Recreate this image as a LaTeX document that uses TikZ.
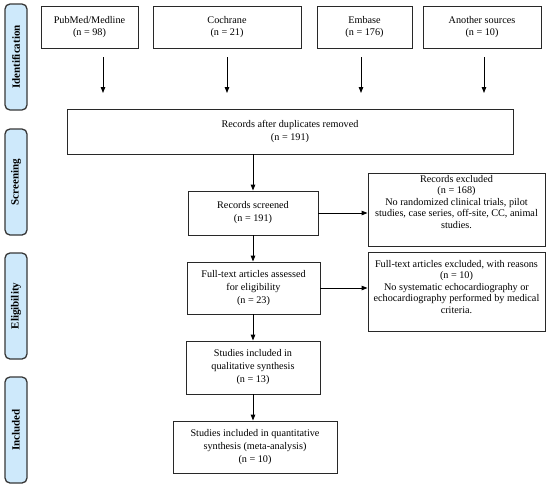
\documentclass[tikz,border=0pt]{standalone}
\usepackage{fontspec}
\setmainfont{Liberation Serif}
\usetikzlibrary{arrows.meta}
\definecolor{lblfill}{RGB}{206,233,251}
\definecolor{lblborder}{RGB}{55,55,55}
\definecolor{boxborder}{RGB}{40,40,40}
\begin{document}
\begin{tikzpicture}[x=1pt,y=-1pt,
 box/.style={draw=boxborder,line width=0.9pt,inner sep=0pt,align=center,font=\fontsize{10.2}{13}\selectfont},
 txt/.style={inner sep=0pt,align=center,font=\fontsize{10.2}{11.5}\selectfont},
 lbl/.style={draw=lblborder,fill=lblfill,line width=1.3pt,rounded corners=5pt,inner sep=0pt,minimum width=106pt,minimum height=22pt,rotate=90,font=\bfseries\fontsize{11}{12}\selectfont},
 arr/.style={-{Triangle[length=6pt,width=4.5pt]},line width=0.9pt}]
\useasboundingbox (0,0) rectangle (550,488);
% stage labels
\node[lbl] (lid) at (16,57) {Identification};
\node[lbl] (lsc) at (16,182) {Screening};
\node[lbl] (lel) at (16,306) {Eligibility};
\node[lbl] (lin) at (16,430) {Included};
% source boxes
\node[box,font=\fontsize{10.2}{12}\selectfont,minimum width=97pt,minimum height=42pt] (pub) at (89.5,27) {PubMed/Medline\\(n = 98)};
\node[box,font=\fontsize{10.2}{12}\selectfont,minimum width=148pt,minimum height=42pt] (coch) at (227,27) {Cochrane\\(n = 21)};
\node[box,font=\fontsize{10.2}{12}\selectfont,minimum width=95pt,minimum height=42pt] (emb) at (364.5,27) {Embase\\(n = 176)};
\node[box,font=\fontsize{10.2}{12}\selectfont,minimum width=118pt,minimum height=42pt] (oth) at (482,27) {Another sources\\(n = 10)};
% free arrows
\coordinate (a1s) at (103,57); \coordinate (a1e) at (103,93);
\coordinate (a2s) at (227,57); \coordinate (a2e) at (227,93);
\coordinate (a3s) at (361,57); \coordinate (a3e) at (361,93);
\coordinate (a4s) at (484,57); \coordinate (a4e) at (484,93);
\draw[arr] (a1s) -- (a1e);
\draw[arr] (a2s) -- (a2e);
\draw[arr] (a3s) -- (a3e);
\draw[arr] (a4s) -- (a4e);
% main flow
\node[box,minimum width=446pt,minimum height=45pt] (dup) at (290,131.5) {Records after duplicates removed\\(n = 191)};
\node[box,minimum width=130pt,minimum height=44pt] (scr) at (253,213) {Records screened\\(n = 191)};
\node[box,minimum width=177pt,minimum height=73pt,
  label={[txt,yshift=7.5pt]center:Records excluded\\(n = 168)\\No randomized clinical trials, pilot\\studies, case series, off-site, CC, animal\\studies.}] (exc1) at (456.5,209.5) {};
\node[box,minimum width=133pt,minimum height=52pt] (ft) at (253.5,288) {Full-text articles assessed\\for eligibility\\(n = 23)};
\node[box,minimum width=177pt,minimum height=79pt,
  label={[txt,yshift=4.5pt]center:Full-text articles excluded, with reasons\\(n = 10)\\No systematic echocardiography or\\echocardiography performed by medical\\criteria.}] (exc2) at (456.5,291.5) {};
\node[box,minimum width=134pt,minimum height=53pt] (qual) at (253,367.5) {Studies included in\\qualitative synthesis\\(n = 13)};
\node[box,minimum width=164pt,minimum height=52pt] (quant) at (255,447) {Studies included in quantitative\\synthesis (meta-analysis)\\(n = 10)};
\draw[arr] (scr.north |- dup.south) -- (scr.north);
\draw[arr] (scr.east) -- (scr.east -| exc1.west);
\draw[arr] (scr.south) -- (scr.south |- ft.north);
\draw[arr] (ft.east) -- (ft.east -| exc2.west);
\draw[arr] (ft.south -| qual.north) -- (qual.north);
\draw[arr] (qual.south) -- (qual.south |- quant.north);
\end{tikzpicture}
\end{document}
